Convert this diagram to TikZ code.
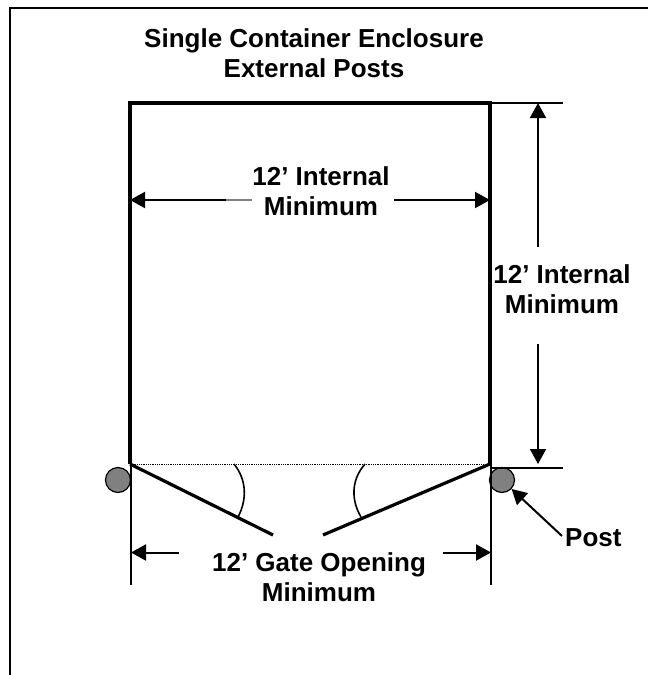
\documentclass[tikz,border=0pt]{standalone}
\usepackage{fontspec}
\setmainfont{Liberation Sans}
\usetikzlibrary{arrows.meta}

\begin{document}
\begin{tikzpicture}[x=1pt, y=-1pt,
    wall/.style = {line width=3.2pt},
    gate/.style = {line width=3.2pt},
    thin line/.style = {line width=1.6pt},
    dim/.style = {line width=2pt, -{Triangle[length=15pt, width=16pt]}},
    post/.style = {draw, circle, fill=gray, line width=1.2pt, minimum size=25pt, inner sep=0pt},
    label/.style = {font=\bfseries\fontsize{26}{30}\selectfont, align=center, inner sep=0pt}]
\useasboundingbox (0,0) rectangle (648,675);

%% frame
\coordinate (fbl) at (10,675);
\coordinate (ftl) at (10,7.5);
\coordinate (ftr) at (648,7.5);
\draw[line width=2pt] (fbl) -- (ftl) -- (ftr);

%% corners of the enclosure
\coordinate (tl) at (130,103);
\coordinate (tr) at (490,103);
\coordinate (bl) at (130,464);
\coordinate (br) at (490,464);

%% text
\node[label] (title) at (314,53) {Single Container Enclosure\\External Posts};
\node[label] (inner) at (321,191) {12’ Internal\\Minimum};
\node[label] (side) at (562,289) {12’ Internal\\Minimum};
\node[label] (open) at (319,577) {12’ Gate Opening\\Minimum};
\node[label, anchor=west] (postlabel) at (565,538) {Post};

%% posts
\node[post] (postl) at (118,480) {};
\node[post] (postr) at (502,480) {};

%%% walls
\draw[wall] (bl) -- (tl) -- (tr) -- (br);
\draw[densely dotted, line width=0.8pt] (bl) -- (br);
\coordinate (gl) at (273,535);
\coordinate (gr) at (323,535);
\draw[gate] (bl) -- (gl);
\draw[gate] (br) -- (gr);

%%% swing arcs
\coordinate (al1) at (234,464);
\coordinate (al2) at (238,517);
\coordinate (ar1) at (365,464);
\coordinate (ar2) at (361,517);
\draw[thin line] (al1) .. controls (247,480) and (247,500) .. (al2);
\draw[thin line] (ar1) .. controls (351,480) and (351,500) .. (ar2);

%%% extension lines
\coordinate (el) at (131,585);
\coordinate (er) at (491,585);
\coordinate (et) at (563,103);
\coordinate (eb) at (563,468);
\draw[thin line] (bl -| el) -- (el);
\draw[thin line] (br -| er) -- (er);
\draw[thin line] (tr) -- (et);
\draw[thin line] (490,468) -- (eb);

%%% dimensions
\coordinate (w1) at (226,200);
\coordinate (w2) at (394,200);
\coordinate (v1) at (538,247);
\coordinate (v2) at (538,344);
\coordinate (g1) at (179,552.5);
\coordinate (g2) at (443,552.5);
\draw[dim] (w1) -- (tl |- w1);
\draw[line width=2pt, gray] (w1) -- (252,200);
\draw[dim] (w2) -- (tr |- w2);
\draw[dim] (v1) -- (538,103);
\draw[dim] (v2) -- (538,464);
\draw[dim] (g1) -- (el |- g1);
\draw[dim] (g2) -- (er |- g2);
\draw[dim] (postlabel.west) ++(-3,-2) -- (postr);

\end{tikzpicture}
\end{document}
